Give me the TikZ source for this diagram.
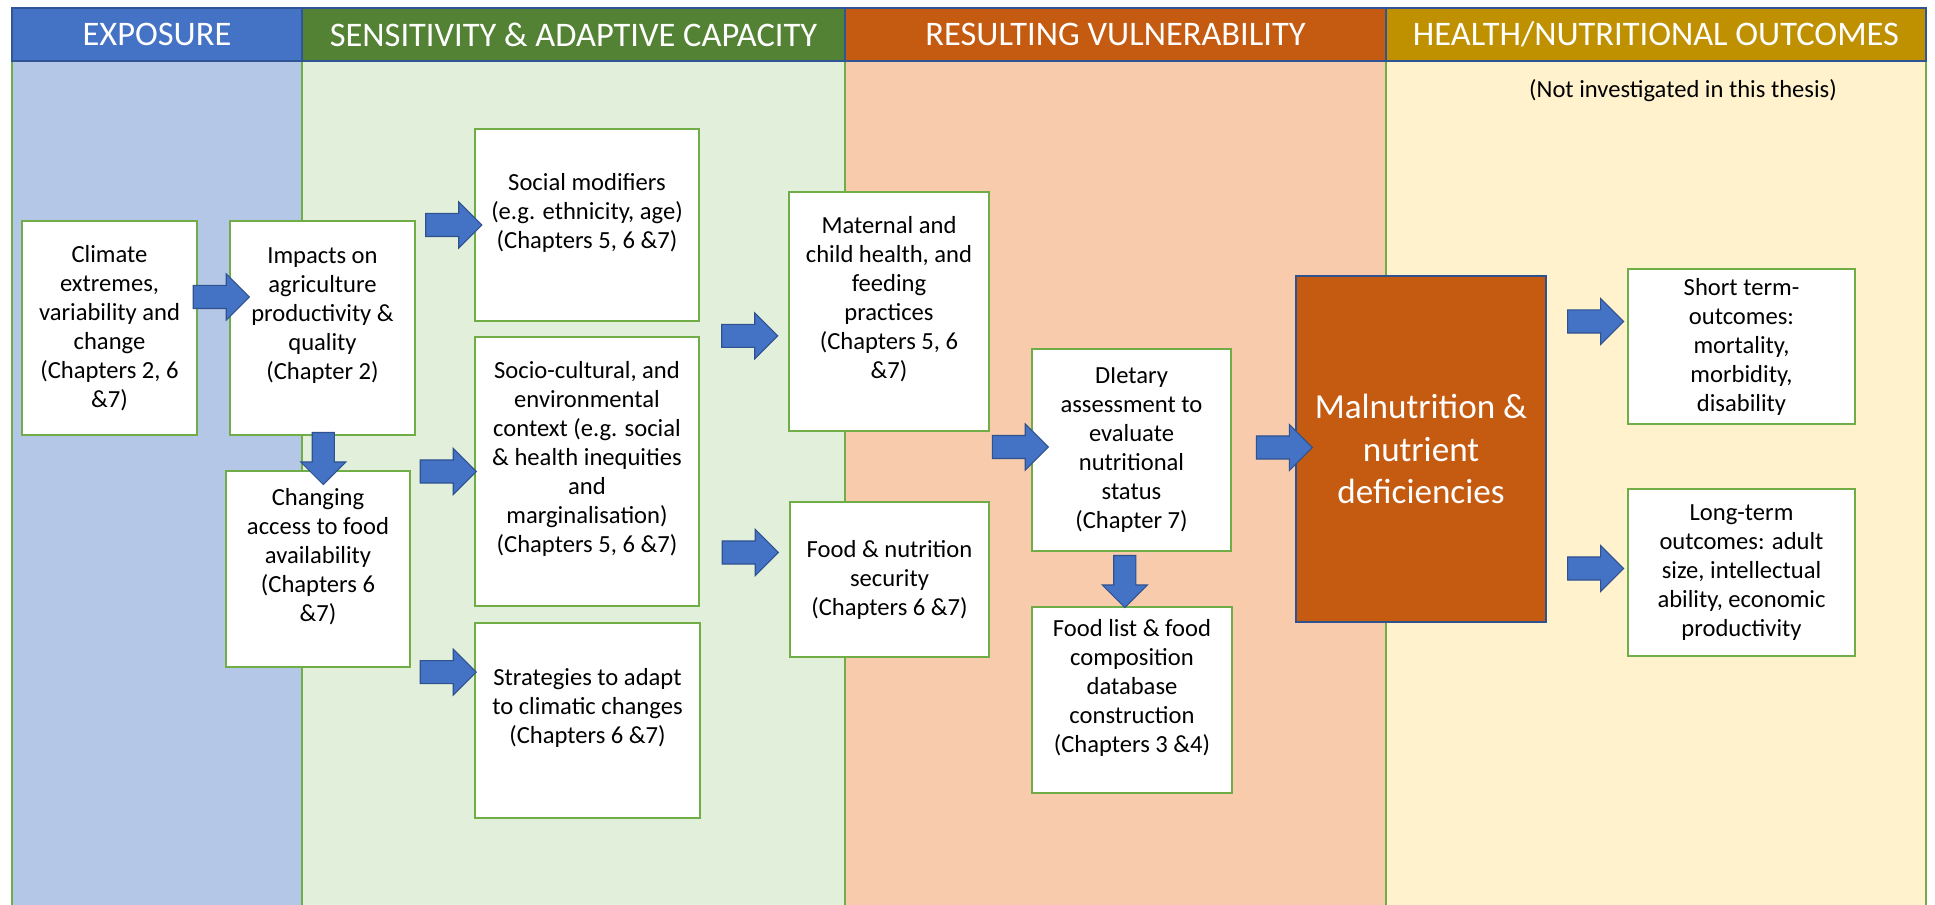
\documentclass[tikz,border=0pt]{standalone}
\usepackage{fontspec}
\setmainfont{Carlito}
\usepackage{tikz}
\usetikzlibrary{calc, shapes.arrows}

\definecolor{hblue}{HTML}{4472C4}
\definecolor{bblue}{HTML}{B4C7E7}
\definecolor{hgreen}{HTML}{548235}
\definecolor{bgreen}{HTML}{E2EFDA}
\definecolor{horange}{HTML}{C55A11}
\definecolor{borange}{HTML}{F8CBAD}
\definecolor{hgold}{HTML}{BF9000}
\definecolor{bgold}{HTML}{FFF2CC}
\definecolor{boxgreen}{HTML}{70AD47}
\definecolor{hline}{HTML}{2F5597}
\definecolor{arrowline}{HTML}{2F528F}

\newcommand{\bodyfont}{\fontsize{14}{16.5}\selectfont}
\newcommand{\headfont}{\fontsize{19.6}{22}\selectfont}
\newcommand{\malnfont}{\fontsize{20}{24.2}\selectfont}

\begin{document}
\begin{tikzpicture}[x=0.02cm, y=-0.02cm,
			wh/.style 2 args={minimum width=#1*0.02cm, minimum height=#2*0.02cm},
			colbody/.style={draw=boxgreen, line width=1.1pt},
			header/.style={draw=hline, line width=0.8pt, text=white, font=\headfont},
			stage/.style={draw=boxgreen, line width=1.2pt, fill=white, align=center, font=\bodyfont},
			blockarrow/.style={single arrow, draw=arrowline, fill=hblue, line width=0.6pt,
				inner xsep=0pt, inner ysep=0.22cm, minimum width=0.9cm, minimum height=1.12cm,
				single arrow head extend=0.23cm, single arrow tip angle=90},
			downarrow/.style={blockarrow, rotate=-90, minimum height=1.04cm, minimum width=0.86cm, inner ysep=0.21cm}]
			
			\useasboundingbox (0,0) rectangle (1935,905);
			
			% column bodies
			\draw[colbody, fill=bblue] (12,61) rectangle (302,920);
			\draw[colbody, fill=bgreen] (302,61) rectangle (845,920);
			\draw[colbody, fill=borange] (845,61) rectangle (1386,920);
			\draw[colbody, fill=bgold] (1386,61) rectangle (1926,920);
			
			% headers
			\node[header, fill=hblue, wh={290}{53}] (hexp) at (157,34.5) {EXPOSURE};
			\node[header, fill=hgreen, wh={543}{53}] (hsens) at (573.5,34.5) {SENSITIVITY \& ADAPTIVE CAPACITY};
			\node[header, fill=horange, wh={541}{53}] (hvul) at (1115.5,34.5) {RESULTING VULNERABILITY};
			\node[header, fill=hgold, wh={540}{53}] (hout) at (1656,34.5) {HEALTH/NUTRITIONAL OUTCOMES};
			\node[font=\bodyfont] (note) at (1683,91) {(Not investigated in this thesis)};
			
			% exposure
			\node[stage, wh={175}{214}] (clim) at (109.5,328) {Climate\\extremes,\\variability and\\change\\(Chapters 2, 6\\\&7)};
			
			% sensitivity & adaptive capacity
			\node[stage, wh={185}{214}] (imp) at (322.5,328) {Impacts on\\agriculture\\productivity \&\\quality\\(Chapter 2)\\~};
			\node[stage, wh={184}{196}] (chg) at (318,569) {Changing\\access to food\\availability\\(Chapters 6\\\&7)\\~};
			\node[stage, wh={224}{192}] (soc) at (587,225) {Social modifiers\\(e.g. ethnicity, age)\\(Chapters 5, 6 \&7)\\~};
			\node[stage, wh={224}{269}] (socio) at (587,471.5) {Socio-cultural, and\\environmental\\context (e.g. social\\\& health inequities\\and\\marginalisation)\\(Chapters 5, 6 \&7)\\~};
			\node[stage, wh={225}{195}] (strat) at (587.5,720.5) {Strategies to adapt\\to climatic changes\\(Chapters 6 \&7)\\~};
			
			% resulting vulnerability
			\node[stage, wh={200}{239}] (mat) at (889,311.5) {Maternal and\\child health, and\\feeding\\practices\\(Chapters 5, 6\\\&7)\\~};
			\node[stage, wh={199}{155}] (fsec) at (889.5,579.5) {Food \& nutrition\\security\\(Chapters 6 \&7)};
			\node[stage, wh={199}{202}] (diet) at (1131.5,450) {DIetary\\assessment to\\evaluate\\nutritional\\status\\(Chapter 7)};
			\node[stage, wh={200}{186}] (flist) at (1132,700) {Food list \& food\\composition\\database\\construction\\(Chapters 3 \&4)\\~};
			\node[draw=arrowline, line width=0.8pt, fill=horange, text=white, align=center, font=\malnfont, wh={250}{346}] (maln) at (1421,449) {Malnutrition \&\\nutrient\\deficiencies};
			
			% health/nutritional outcomes
			\node[stage, wh={227}{155}] (short) at (1741.5,346.5) {Short term-\\outcomes:\\mortality,\\morbidity,\\disability};
			\node[stage, wh={227}{167}] (long) at (1741.5,572.5) {Long-term\\outcomes: adult\\size, intellectual\\ability, economic\\productivity};
			
			% block arrows
			\node[blockarrow] (a1) at ($(clim.east)!.5!(imp.west)+(2,-31)$) {};
			\node[downarrow] (a2) at ($(imp.south)!.5!(chg.north)+(3,0)$) {};
			\node[blockarrow] (a3) at ($(imp.east |- soc.west)!.5!(soc.west)+(3,0)$) {};
			\node[blockarrow] (a4) at ($(chg.east |- socio.west)!.5!(socio.west)$) {};
			\node[blockarrow] (a5) at ($(chg.south east)!.5!(strat.west |- chg.south east)+(0,4)$) {};
			\node[blockarrow] (a6) at ($(socio.north east)!.5!(mat.west |- socio.north east)$) {};
			\node[blockarrow] (a7) at ($(socio.east |- fsec.west)!.5!(fsec.west)+(0,-27)$) {};
			\node[blockarrow] (a8) at ($(mat.east |- diet.west)!.5!(diet.west)+(4,-3)$) {};
			\node[downarrow] (a9) at ($(diet.south)!.5!(flist.north)+(-7,-3)$) {};
			\node[blockarrow] (a10) at ($(diet.east)!.5!(maln.west)+(15,-2)$) {};
			\node[blockarrow] (a11) at ($(maln.east |- short.west)!.5!(short.west)+(3,-25)$) {};
			\node[blockarrow] (a12) at ($(maln.east |- long.west)!.5!(long.west)+(3,-4)$) {};
		\end{tikzpicture}
\end{document}
